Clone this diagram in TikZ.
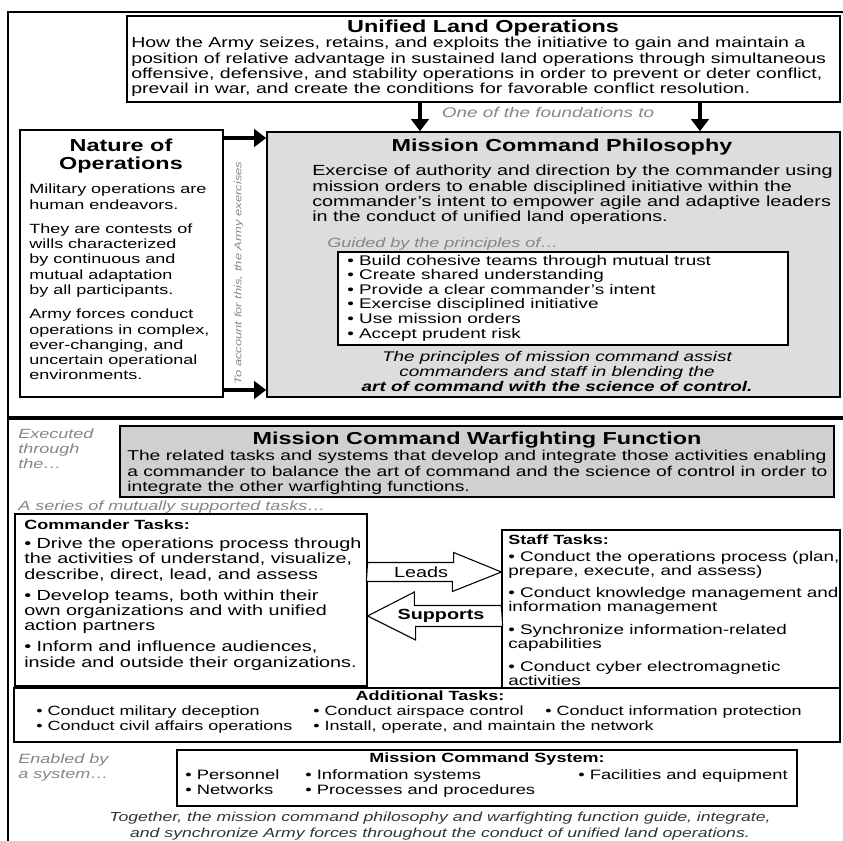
\documentclass[tikz,border=0pt]{standalone}
\usepackage{fontspec}
\setmainfont{Liberation Sans}[FakeStretch=1.35]
\usetikzlibrary{positioning, arrows.meta, fit}

\definecolor{philgray}{HTML}{DDDDDD}
\definecolor{funcgray}{HTML}{D0D0D0}
\definecolor{notegray}{HTML}{858585}

\begin{document}
\begin{tikzpicture}[x=0.75pt, y=-0.75pt,
    box/.style={draw, line width=0.9pt, inner sep=0pt, fill=white},
    graybox/.style={box, line width=1.2pt, fill=philgray},
    heading/.style={font=\fontsize{13}{12.8}\selectfont\bfseries, align=center, inner sep=0pt},
    subhead/.style={font=\fontsize{10}{12}\selectfont\bfseries, inner sep=0pt},
    body/.style={font=\fontsize{11}{11.6}\selectfont, align=left, anchor=west, inner sep=0pt},
    note/.style={font=\fontsize{10}{11.3}\selectfont\itshape, text=notegray, align=left, anchor=west, inner sep=0pt},
    bigarrow/.style={line width=2.4pt, -{Triangle[width=13pt, length=9pt]}},
    blockarrow/.style={draw, line width=0.8pt, fill=white}]
    \useasboundingbox (0,0) rectangle (843,841);

    % Frame and divider
    \draw[line width=1.5pt] (8,841) -- (8,12) -- (843,12);
    \draw[line width=3pt] (8,418) -- (843,418);

    % Unified land operations
    \node[box, fit={(127,16) (840,102)}] (ulo) {};
    \node[heading] (ulo-t) at (483,28) {Unified Land Operations};
    \node[body, font=\fontsize{10.85}{11.6}\selectfont] (ulo-b) at (131,67) {How the Army seizes, retains, and exploits the initiative to gain and maintain a\\
        position of relative advantage in sustained land operations through simultaneous\\
        offensive, defensive, and stability operations in order to prevent or deter conflict,\\
        prevail in war, and create the conditions for favorable conflict resolution.};
    \node[note, anchor=center, font=\fontsize{10.5}{12}\selectfont\itshape] (found) at (548,113) {One of the foundations to};

    % Nature of operations
    \node[box, fit={(20,130) (223,397)}] (nature) {};
    \node[heading] (nature-t) at (121,156) {Nature of\\Operations};
    \node[body, font=\fontsize{10}{11.4}\selectfont] (nature-b) at (29,282) {Military operations are\\human endeavors.\\[7pt]
        They are contests of\\wills characterized\\by continuous and\\mutual adaptation\\by all participants.\\[7pt]
        Army forces conduct\\operations in complex,\\ever-changing, and\\uncertain operational\\environments.};
    \node[note, anchor=center, rotate=90, font=\fontsize{7.2}{9}\selectfont\itshape] (account) at (239,273) {To account for this, the Army exercises};

    % Mission command philosophy
    \node[graybox, fit={(267,132) (840,397)}] (mcp) {};
    \node[heading] (mcp-t) at (562,147) {Mission Command Philosophy};
    \node[body] (mcp-b) at (312,195) {Exercise of authority and direction by the commander using\\
        mission orders to enable disciplined initiative within the\\
        commander's intent to empower agile and adaptive leaders\\
        in the conduct of unified land operations.};
    \node[note] (guided) at (327,244) {Guided by the principles of\ldots};
    \node[box, fit={(338,252) (788,345)}] (principles) {};
    \node[body, font=\fontsize{10.5}{10.95}\selectfont] (principles-b) at (347,298) {• Build cohesive teams through mutual trust\\
        • Create shared understanding\\
        • Provide a clear commander's intent\\
        • Exercise disciplined initiative\\
        • Use mission orders\\
        • Accept prudent risk};
    \node[body, anchor=center, align=center, font=\fontsize{10.5}{11.25}\selectfont\itshape] (blend) at (557,372) {The principles of mission command assist\\
        commanders and staff in blending the\\
        \textbf{art of command with the science of control.}};

    % Arrows into the philosophy
    \coordinate (ax1) at (420,0);
    \coordinate (ax2) at (700,0);
    \coordinate (ay1) at (0,138);
    \coordinate (ay2) at (0,390);
    \draw[bigarrow] (ulo.south -| ax1) -- (mcp.north -| ax1);
    \draw[bigarrow] (ulo.south -| ax2) -- (mcp.north -| ax2);
    \draw[bigarrow] (nature.east |- ay1) -- (mcp.west |- ay1);
    \draw[bigarrow] (nature.east |- ay2) -- (mcp.west |- ay2);

    % Warfighting function
    \node[note] (exec) at (18,449) {Executed\\through\\the\ldots};
    \node[graybox, fill=funcgray, fit={(120,426) (834,497)}] (wf) {};
    \node[heading] (wf-t) at (477,440) {Mission Command Warfighting Function};
    \node[body, font=\fontsize{10.7}{11.6}\selectfont] (wf-b) at (127,472.5) {The related tasks and systems that develop and integrate those activities enabling\\
        a commander to balance the art of command and the science of control in order to\\
        integrate the other warfighting functions.};

    % Tasks
    \node[note] (series) at (18,507) {A series of mutually supported tasks\ldots};
    \node[box, fit={(15,514) (367,686)}] (cmdr) {};
    \node[subhead, anchor=west] (cmdr-t) at (24,525) {Commander Tasks:};
    \node[body] (cmdr-b) at (24,604) {• Drive the operations process through\\the activities of understand, visualize,\\describe, direct, lead, and assess\\[4pt]
        • Develop teams, both within their\\own organizations and with unified\\action partners\\[4pt]
        • Inform and influence audiences,\\inside and outside their organizations.};

    \node[box, fit={(502,530) (840,688)}] (staff) {};
    \node[subhead, anchor=west] (staff-t) at (508,540) {Staff Tasks:};
    \node[body, font=\fontsize{10.5}{10.5}\selectfont] (staff-b) at (508,618) {• Conduct the operations process (plan,\\prepare, execute, and assess)\\[6.5pt]
        • Conduct knowledge management and\\information management\\[6.5pt]
        • Synchronize information-related\\capabilities\\[6.5pt]
        • Conduct cyber electromagnetic\\activities};

    \coordinate (leads) at (0,572);
    \coordinate (supp) at (0,616);
    \draw[blockarrow] (cmdr.east |- leads) ++(0,-9.5) -- ++(86,0) -- ++(0,-10) -- (staff.west |- leads)
        -- ++(-49,19.5) -- ++(0,-10) -- ++(-86,0) -- cycle;
    \draw[blockarrow] (staff.west |- supp) ++(0,-10.5) -- ++(-87,0) -- ++(0,-13.5) -- (cmdr.east |- supp)
        -- ++(48,24) -- ++(0,-13.5) -- ++(87,0) -- cycle;
    \node[font=\fontsize{11}{13}\selectfont] (leads-t) at (421,572) {Leads};
    \node[font=\fontsize{11}{13}\selectfont\bfseries] (supp-t) at (441,616) {Supports};

    % Additional tasks
    \node[box, fit={(14,688) (840,742)}] (addl) {};
    \node[subhead] (addl-t) at (430,696) {Additional Tasks:};
    \node[body, anchor=north west, font=\fontsize{10}{11.25}\selectfont] (addl-a) at (36,706) {• Conduct military deception\\• Conduct civil affairs operations};
    \node[body, anchor=north west, font=\fontsize{10}{11.25}\selectfont] (addl-b) at (313,706) {• Conduct airspace control\\• Install, operate, and maintain the network};
    \node[body, anchor=north west, font=\fontsize{10}{11.25}\selectfont] (addl-c) at (545,706) {• Conduct information protection};

    % Mission command system
    \node[note] (enabled) at (18,768) {Enabled by\\a system\ldots};
    \node[box, fit={(177,750) (797,806)}] (mcs) {};
    \node[subhead] (mcs-t) at (487,759) {Mission Command System:};
    \node[body, anchor=north west, font=\fontsize{10.2}{11.25}\selectfont] (mcs-a) at (185,769) {• Personnel\\• Networks};
    \node[body, anchor=north west, font=\fontsize{10.2}{11.25}\selectfont] (mcs-b) at (305,769) {• Information systems\\• Processes and procedures};
    \node[body, anchor=north west, font=\fontsize{10.2}{11.25}\selectfont] (mcs-c) at (578,769) {• Facilities and equipment};

    \node[note, anchor=center, align=center, text=black!80, font=\fontsize{9.8}{12}\selectfont\itshape] (together) at (440,826)
        {Together, the mission command philosophy and warfighting function guide, integrate,\\
        and synchronize Army forces throughout the conduct of unified land operations.};
\end{tikzpicture}
\end{document}
